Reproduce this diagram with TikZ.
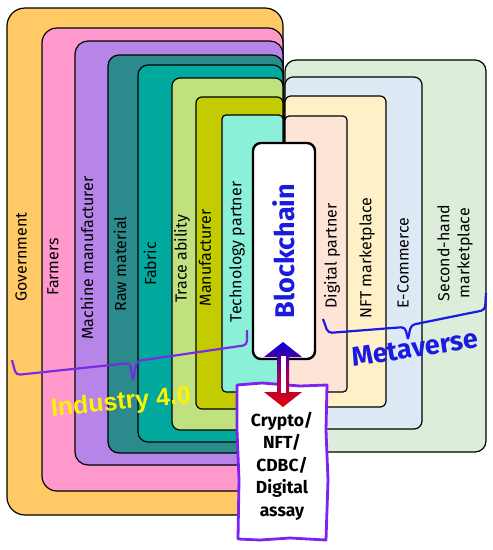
\documentclass[tikz,border=0pt]{standalone}
\usepackage{fontspec}
\setmainfont{Fira Sans}
\newfontfamily\arialfont{Liberation Sans}
\definecolor{cgov}{HTML}{FFC966}
\definecolor{cfarm}{HTML}{FF99CC}
\definecolor{cmach}{HTML}{B784E8}
\definecolor{craw}{HTML}{2A8A8C}
\definecolor{cfab}{HTML}{00A99D}
\definecolor{ctrace}{HTML}{C0E27E}
\definecolor{cmanu}{HTML}{C2CC00}
\definecolor{ctech}{HTML}{8AF0D8}
\definecolor{csecond}{HTML}{DCEEDA}
\definecolor{cecom}{HTML}{DDEAF6}
\definecolor{cnft}{HTML}{FFF0C8}
\definecolor{cdig}{HTML}{FDE4D6}
\definecolor{cviolet}{HTML}{7F22F0}
\definecolor{cbrace}{HTML}{7A2BE2}
\definecolor{cmeta}{HTML}{1A1AE0}
\tikzset{
  lbox/.style={draw=black, line width=1.2pt},
  lbl/.style={rotate=90, font=\fontsize{16}{18}\selectfont, inner sep=0pt},
  lbl2/.style={rotate=90, font=\fontsize{16}{20}\selectfont, inner sep=0pt, align=center},
  bracestyle/.style={line width=2.2pt, rounded corners=4},
}
\begin{document}
\begin{tikzpicture}[x=1pt,y=-1pt]
\useasboundingbox (0,0) rectangle (493,550);
% right (metaverse) boxes
\draw[lbox, fill=csecond, rounded corners=11] (285,60) rectangle (486,452);
\draw[lbox, fill=cecom, rounded corners=8] (285,77) rectangle (422,429);
\draw[lbox, fill=cnft, rounded corners=6] (285,96) rectangle (386,407);
\draw[lbox, fill=cdig, rounded corners=4] (285,116) rectangle (347,392);
% left (industry) boxes
\draw[lbox, fill=cgov, rounded corners=18] (7,8) rectangle (283,515);
\draw[lbox, fill=cfarm, rounded corners=15] (42,28) rectangle (283,491);
\draw[lbox, fill=cmach, rounded corners=13] (75,41) rectangle (283,465);
\draw[lbox, fill=craw, rounded corners=11] (108,55) rectangle (283,453);
\draw[lbox, fill=cfab, rounded corners=10] (138,65) rectangle (283,442);
\draw[lbox, fill=ctrace, rounded corners=8] (172,78) rectangle (283,430);
\draw[lbox, fill=cmanu, rounded corners=6] (196,97) rectangle (283,409);
\draw[lbox, fill=ctech, rounded corners=4] (222,115) rectangle (283,392);
% labels
\node[lbl] (l1) at (21,257) {Government};
\node[lbl] (l2) at (53,267) {Farmers};
\node[lbl] (l3) at (87,258) {Machine manufacturer};
\node[lbl] (l4) at (120,264) {Raw material};
\node[lbl] (l5) at (150,264) {Fabric};
\node[lbl] (l6) at (182,259) {Trace ability};
\node[lbl] (l7) at (205,258) {Manufacturer};
\node[lbl] (l8) at (237,252) {Technology partner};
\node[lbl] (r1) at (332,256) {Digital partner};
\node[lbl] (r2) at (367,258) {NFT marketplace};
\node[lbl] (r3) at (403,263) {E-Commerce};
\node[lbl2] (r4) at (455,253) {Second-hand\\marketplace};
% blockchain box
\draw[draw=black, fill=white, line width=2.4pt, rounded corners=8] (253,143) rectangle (315,359);
\node[rotate=90, text=cmeta, font=\fontsize{27}{30}\selectfont\bfseries, inner sep=0pt] (bc) at (284,251) {Blockchain};
% braces
\draw[cbrace, bracestyle] (12,360) -- (16,375) -- (130,363) -- (133,380);
\draw[cbrace, bracestyle] (133,380) -- (137,361) -- (247,345) -- (247,330);
\draw[cmeta, bracestyle] (323,319) -- (328,333) -- (405,327) -- (408,339);
\draw[cmeta, bracestyle] (408,339) -- (411,325) -- (485,310) -- (486,293);
\node[rotate=5.5, text=yellow, font=\arialfont\fontsize{25}{27}\selectfont\bfseries, inner sep=0pt] (ind) at (121,403) {Industry 4.0};
\node[rotate=8.5, text=cmeta, font=\fontsize{27}{30}\selectfont\bfseries, inner sep=0pt] (meta) at (415,348) {Metaverse};
% crypto box
\draw[draw=cviolet, fill=white, line width=2.8pt, line join=round] (237,385) -- (262,383) -- (300,386) -- (327,385) -- (326,430) -- (328,480) -- (326,540) -- (290,538) -- (260,540) -- (238,539) -- (239,480) -- (237,430) -- cycle;
\node[align=center, font=\fontsize{17.5}{22.5}\selectfont\bfseries, inner sep=0pt] (cr) at (282,466) {Crypto/\\NFT/\\CDBC/\\Digital\\assay};
% double arrow
\shade[top color=blue!85!black, bottom color=red!90!black, middle color=violet!80!red] (283,342) -- (302,357) -- (289,357) -- (289,392) -- (302,392) -- (283,407) -- (264,392) -- (277,392) -- (277,357) -- (264,357) -- cycle;
\fill[white] (280.5,356) rectangle (285.5,393);
\end{tikzpicture}
\end{document}
